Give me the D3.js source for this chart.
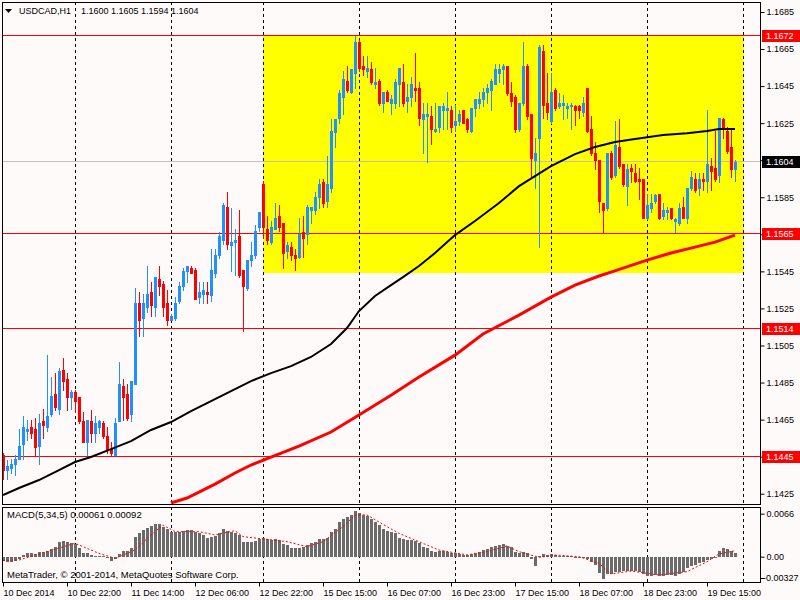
<!DOCTYPE html>
<html><head><meta charset="utf-8">
<script src="https://cdn.jsdelivr.net/npm/d3@7"></script>
<style>
body{margin:0;background:#fffafa;}
svg{display:block}
text{font-family:"Liberation Sans",Arial,sans-serif;font-size:9px;fill:#000}
</style>
</head><body>
<svg id="c" width="800" height="600"></svg>
<script>
// ---------- DATA ----------
const symbol = "USDCAD,H1";
const headerOHLC = ["1.1600","1.1605","1.1594","1.1604"];
const open = [1.1446,1.1438,1.1439,1.1441,1.1444,1.1452,1.1459,1.1461,1.1460,1.1451,
1.1464,1.1461,1.1468,1.1479,1.1471,1.1492,1.1487,1.1477,1.1480,1.1477,
1.1464,1.1453,1.1464,1.1458,1.1461,1.1463,1.1456,1.1449,1.1446,1.1464,
1.1483,1.1479,1.1468,1.1484,1.1528,1.1520,1.1526,1.1534,1.1526,1.1541,
1.1538,1.1528,1.1519,1.1520,1.1529,1.1537,1.1545,1.1547,1.1546,1.1531,
1.1533,1.1534,1.1532,1.1544,1.1554,1.1562,1.1580,1.1559,1.1561,1.1564,
1.1546,1.1536,1.1551,1.1554,1.1569,1.1592,1.1568,1.1561,1.1568,1.1575,
1.1571,1.1556,1.1558,1.1554,1.1553,1.1566,1.1565,1.1578,1.1578,1.1585,
1.1593,1.1583,1.1590,1.1620,1.1628,1.1639,1.1648,1.1642,1.1652,1.1669,
1.1656,1.1653,1.1654,1.1646,1.1648,1.1636,1.1642,1.1636,1.1636,1.1646,
1.1647,1.1637,1.1639,1.1644,1.1644,1.1627,1.1629,1.1629,1.1621,1.1623,
1.1632,1.1632,1.1632,1.1624,1.1626,1.1632,1.1627,1.1621,1.1633,1.1636,
1.1638,1.1642,1.1643,1.1646,1.1652,1.1654,1.1656,1.1641,1.1639,1.1622,
1.1636,1.1656,1.1630,1.1605,1.1617,1.1664,1.1636,1.1626,1.1643,1.1634,
1.1635,1.1633,1.1634,1.1634,1.1634,1.1631,1.1644,1.1622,1.1609,1.1605,
1.1582,1.1579,1.1609,1.1597,1.1612,1.1603,1.1591,1.1601,1.1598,1.1595,
1.1595,1.1574,1.1579,1.1583,1.1587,1.1575,1.1577,1.1579,1.1572,1.1571,
1.1580,1.1574,1.1590,1.1595,1.1590,1.1595,1.1594,1.1602,1.1601,1.1597,
1.1627,1.1621,1.1612,1.1600];
const high = [1.1447,1.1443,1.1444,1.1446,1.1460,1.1467,1.1465,1.1465,1.1466,1.1468,
1.1471,1.1500,1.1488,1.1490,1.1493,1.1498,1.1490,1.1481,1.1481,1.1477,
1.1469,1.1465,1.1470,1.1467,1.1465,1.1464,1.1461,1.1453,1.1466,1.1496,
1.1487,1.1484,1.1486,1.1536,1.1534,1.1533,1.1548,1.1539,1.1542,1.1548,
1.1540,1.1535,1.1522,1.1531,1.1539,1.1547,1.1548,1.1548,1.1547,1.1539,
1.1539,1.1539,1.1557,1.1557,1.1566,1.1582,1.1588,1.1579,1.1568,1.1578,
1.1546,1.1551,1.1561,1.1570,1.1577,1.1594,1.1575,1.1572,1.1582,1.1581,
1.1571,1.1561,1.1561,1.1557,1.1574,1.1575,1.1581,1.1580,1.1588,1.1595,
1.1595,1.1607,1.1627,1.1627,1.1643,1.1653,1.1656,1.1654,1.1672,1.1670,
1.1661,1.1661,1.1658,1.1655,1.1649,1.1642,1.1643,1.1640,1.1649,1.1655,
1.1657,1.1646,1.1650,1.1663,1.1647,1.1636,1.1636,1.1634,1.1636,1.1634,
1.1636,1.1642,1.1634,1.1635,1.1632,1.1632,1.1628,1.1633,1.1638,1.1642,
1.1644,1.1646,1.1649,1.1657,1.1657,1.1657,1.1656,1.1647,1.1640,1.1636,
1.1669,1.1657,1.1630,1.1617,1.1667,1.1667,1.1652,1.1652,1.1644,1.1641,
1.1640,1.1636,1.1636,1.1635,1.1635,1.1639,1.1644,1.1629,1.1615,1.1605,
1.1582,1.1609,1.1610,1.1626,1.1627,1.1603,1.1603,1.1603,1.1603,1.1601,
1.1595,1.1587,1.1587,1.1587,1.1587,1.1582,1.1580,1.1579,1.1574,1.1582,
1.1585,1.1590,1.1599,1.1598,1.1598,1.1598,1.1632,1.1606,1.1621,1.1628,
1.1628,1.1623,1.1622,1.1605];
const low = [1.1433,1.1433,1.1436,1.1435,1.1444,1.1444,1.1454,1.1455,1.1446,1.1441,
1.1455,1.1459,1.1467,1.1470,1.1468,1.1481,1.1470,1.1471,1.1469,1.1463,
1.1453,1.1446,1.1453,1.1453,1.1458,1.1455,1.1447,1.1446,1.1446,1.1464,
1.1465,1.1465,1.1464,1.1484,1.1510,1.1510,1.1523,1.1521,1.1521,1.1532,
1.1521,1.1516,1.1519,1.1519,1.1528,1.1535,1.1539,1.1544,1.1530,1.1528,
1.1528,1.1528,1.1529,1.1542,1.1552,1.1560,1.1557,1.1545,1.1543,1.1542,
1.1513,1.1535,1.1548,1.1552,1.1567,1.1563,1.1560,1.1560,1.1568,1.1567,
1.1547,1.1552,1.1551,1.1546,1.1552,1.1553,1.1560,1.1571,1.1576,1.1579,
1.1580,1.1580,1.1588,1.1612,1.1625,1.1630,1.1642,1.1641,1.1644,1.1653,
1.1651,1.1650,1.1646,1.1644,1.1635,1.1631,1.1637,1.1630,1.1633,1.1634,
1.1634,1.1631,1.1634,1.1637,1.1624,1.1609,1.1604,1.1614,1.1620,1.1620,
1.1622,1.1622,1.1620,1.1621,1.1624,1.1625,1.1620,1.1620,1.1629,1.1633,
1.1634,1.1636,1.1632,1.1646,1.1647,1.1646,1.1640,1.1634,1.1620,1.1621,
1.1635,1.1627,1.1596,1.1590,1.1558,1.1628,1.1627,1.1625,1.1632,1.1633,
1.1627,1.1628,1.1622,1.1624,1.1628,1.1629,1.1620,1.1608,1.1600,1.1577,
1.1566,1.1578,1.1595,1.1596,1.1601,1.1591,1.1581,1.1593,1.1593,1.1584,
1.1574,1.1573,1.1577,1.1582,1.1573,1.1573,1.1573,1.1573,1.1566,1.1570,
1.1574,1.1571,1.1589,1.1588,1.1586,1.1589,1.1588,1.1589,1.1594,1.1593,
1.1617,1.1609,1.1596,1.1594];
const close = [1.1438,1.1440,1.1441,1.1444,1.1451,1.1461,1.1460,1.1458,1.1450,1.1463,
1.1462,1.1467,1.1478,1.1472,1.1491,1.1486,1.1477,1.1480,1.1475,1.1464,
1.1453,1.1465,1.1458,1.1463,1.1464,1.1456,1.1449,1.1447,1.1463,1.1484,
1.1477,1.1466,1.1486,1.1528,1.1519,1.1528,1.1533,1.1527,1.1542,1.1537,
1.1526,1.1519,1.1521,1.1528,1.1537,1.1545,1.1548,1.1544,1.1530,1.1534,
1.1535,1.1533,1.1546,1.1554,1.1564,1.1581,1.1560,1.1561,1.1562,1.1543,
1.1537,1.1551,1.1554,1.1567,1.1577,1.1569,1.1562,1.1569,1.1574,1.1569,
1.1555,1.1559,1.1554,1.1552,1.1565,1.1563,1.1580,1.1580,1.1585,1.1592,
1.1582,1.1592,1.1621,1.1627,1.1641,1.1649,1.1643,1.1654,1.1669,1.1655,
1.1654,1.1655,1.1647,1.1647,1.1636,1.1642,1.1637,1.1638,1.1647,1.1655,
1.1636,1.1639,1.1646,1.1643,1.1628,1.1630,1.1630,1.1622,1.1622,1.1634,
1.1634,1.1633,1.1623,1.1626,1.1630,1.1625,1.1622,1.1633,1.1638,1.1638,
1.1642,1.1644,1.1648,1.1654,1.1654,1.1656,1.1641,1.1637,1.1622,1.1636,
1.1656,1.1629,1.1606,1.1609,1.1666,1.1635,1.1631,1.1642,1.1633,1.1636,
1.1636,1.1634,1.1635,1.1632,1.1632,1.1636,1.1621,1.1609,1.1605,1.1583,
1.1578,1.1609,1.1596,1.1613,1.1602,1.1592,1.1600,1.1599,1.1594,1.1594,
1.1574,1.1581,1.1582,1.1586,1.1574,1.1578,1.1578,1.1574,1.1573,1.1579,
1.1574,1.1590,1.1596,1.1589,1.1595,1.1594,1.1603,1.1599,1.1595,1.1628,
1.1622,1.1610,1.1600,1.1604];

const timeLabels = ["10 Dec 2014","10 Dec 22:00","11 Dec 14:00","12 Dec 06:00","12 Dec 22:00","15 Dec 15:00",
  "16 Dec 07:00","16 Dec 23:00","17 Dec 15:00","18 Dec 07:00","18 Dec 23:00","19 Dec 15:00"];
const timeLabelBars = [0,16,32,48,64,80,96,112,128,144,160,176];
const dayStartBars = [18,42,65,89,113,137,161,185];

const priceTicks = [1.1685,1.1665,1.1645,1.1625,1.1605,1.1585,1.1565,1.1545,1.1525,1.1505,1.1485,1.1465,1.1445,1.1425];
const levelPrices = [1.1672,1.1565,1.1514,1.1445];
const bidPrice = 1.1604;
const boxBars = [65,185.25];
const boxPrices = [1.1672,1.1544];

const maBlackBars = [0,4,9,14,18,22,27,32,37,42,47,52,57,62,67,72,77,82,86,89,93,97,100,104,108,113,118,124,129,133,137,143,148,153,158,165,171,176,179,183];
const maBlackVals = [1.14243,1.14281,1.14324,1.14378,1.14421,1.14448,1.14491,1.14534,1.14594,1.14637,
  1.14696,1.14750,1.14804,1.14858,1.14901,1.14939,1.14988,1.15058,1.15144,1.15236,
  1.15317,1.15376,1.15419,1.15479,1.15549,1.15646,1.15722,1.15819,1.15910,1.15964,
  1.16018,1.16083,1.16121,1.16148,1.16164,1.16186,1.16196,1.16207,1.16218,1.16218];
const maRedBars = [42,46,53,58,62,67,74,82,89,97,104,113,120,129,137,143,149,152,161,167,173,178,183];
const maRedVals = [1.14200,1.14227,1.14302,1.14362,1.14405,1.14448,1.14507,1.14583,1.14675,1.14782,
  1.14880,1.14998,1.15112,1.15214,1.15311,1.15376,1.15425,1.15446,1.15511,1.15549,1.15581,1.15608,1.15646];

const macdMain = [-0.00067,-0.00077,-0.00077,-0.00061,-0.00041,0.00026,0.00051,0.00051,0.00041,0.00067,
0.00077,0.00092,0.00113,0.00154,0.00220,0.00236,0.00220,0.00215,0.00195,0.00138,
0.00061,0.00061,0.00026,0.00015,0.00010,0.00003,-0.00026,-0.00067,-0.00036,0.00036,
0.00087,0.00087,0.00128,0.00297,0.00369,0.00410,0.00445,0.00471,0.00502,0.00502,
0.00461,0.00420,0.00384,0.00374,0.00384,0.00399,0.00410,0.00410,0.00374,0.00358,
0.00333,0.00282,0.00297,0.00317,0.00358,0.00420,0.00399,0.00384,0.00369,0.00333,
0.00230,0.00220,0.00220,0.00246,0.00271,0.00292,0.00271,0.00256,0.00271,0.00256,
0.00195,0.00179,0.00138,0.00128,0.00128,0.00143,0.00179,0.00205,0.00220,0.00266,
0.00266,0.00282,0.00374,0.00425,0.00527,0.00579,0.00604,0.00640,0.00701,0.00676,
0.00640,0.00625,0.00579,0.00527,0.00486,0.00420,0.00399,0.00374,0.00358,0.00290,
0.00271,0.00256,0.00256,0.00241,0.00205,0.00154,0.00128,0.00087,0.00077,0.00087,
0.00087,0.00077,0.00061,0.00051,0.00041,0.00026,0.00026,0.00041,0.00061,0.00077,
0.00102,0.00118,0.00143,0.00164,0.00179,0.00195,0.00169,0.00154,0.00077,0.00051,
0.00077,0.00051,-0.00041,-0.00138,0.00015,0.00036,0.00026,0.00036,0.00026,0.00015,
0.00010,0.00010,0.00003,-0.00010,-0.00010,-0.00010,-0.00041,-0.00077,-0.00128,-0.00246,
-0.00343,-0.00266,-0.00266,-0.00230,-0.00230,-0.00220,-0.00220,-0.00220,-0.00220,-0.00230,
-0.00266,-0.00297,-0.00292,-0.00282,-0.00297,-0.00292,-0.00282,-0.00282,-0.00292,-0.00266,
-0.00230,-0.00179,-0.00138,-0.00128,-0.00102,-0.00077,-0.00051,-0.00036,-0.00010,0.00092,
0.00128,0.00113,0.00087,0.00061];
const signalBars = [0,4,11,18,24,28,33,37,40,43,49,53,58,60,66,71,76,80,85,88,91,96,99,104,109,116,121,126,129,134,138,144,149,152,157,164,171,176,179,183];
const signalVals = [-0.00060,-0.00051,0.00077,0.00205,0.00051,-0.00026,0.00102,0.00333,0.00486,0.00384,
  0.00384,0.00333,0.00399,0.00307,0.00266,0.00230,0.00154,0.00230,0.00461,0.00640,
  0.00640,0.00461,0.00358,0.00230,0.00102,0.00026,0.00077,0.00164,0.00077,-0.00010,
  0.00026,0.00000,-0.00102,-0.00266,-0.00220,-0.00282,-0.00230,-0.00077,0.00041,0.00092];
const macdTicks = [0.0066,0,-0.00327];
const macdTickLabels = ["0.0066","0.00","-0.00327"];
const macdTitle = "MACD(5,34,5) 0.00061 0.00092";
const copyright = "MetaTrader, \u00A9 2001-2014, MetaQuotes Software Corp.";

// ---------- LAYOUT ----------
const svg = d3.select("#c");
const L = 2, R = 760, T = 2, B = 504, MT = 507, MB = 582;
const x = d3.scaleLinear().domain([0,183]).range([3,735]);
const y = d3.scaleLinear().domain([1.1672,1.1425]).range([36.05,36.05+18530*0.0247]);
const ym = d3.scaleLinear().domain([0,0.0066]).range([556.67,513.67]);

svg.append("rect").attr("width",800).attr("height",600).attr("fill","#fffafa");
svg.append("defs").append("clipPath").attr("id","mainClip")
  .append("rect").attr("x",L+1).attr("y",T+1).attr("width",R-L-1).attr("height",B-T-1);

// yellow rectangle
const bx0 = Math.round(x(boxBars[0])), bx1 = Math.round(x(boxBars[1]));
const by0 = Math.round(y(boxPrices[0])), by1 = Math.round(y(boxPrices[1]));
svg.append("rect").attr("x",bx0).attr("y",by0-1).attr("width",bx1-bx0).attr("height",by1-by0+1).attr("fill","#ffff00");

// grid
const g = svg.append("g");
dayStartBars.forEach(b=>{
  const gx = Math.round(x(b))+0.5;
  g.append("line").attr("x1",gx).attr("x2",gx).attr("y1",T).attr("y2",B)
    .attr("stroke","#000").attr("stroke-dasharray","3,3");
  g.append("line").attr("x1",gx).attr("x2",gx).attr("y1",MT).attr("y2",MB)
    .attr("stroke","#000").attr("stroke-dasharray","3,3");
  if (gx>=bx0 && gx<=bx1) {
    g.append("line").attr("x1",gx).attr("x2",gx)
      .attr("y1",by0-1).attr("y2",by1)
      .attr("stroke","#0000a0").attr("stroke-dasharray","3,3")
      .attr("stroke-dashoffset",(by0-1-T));
  }
});

// horizontal levels
const lv = svg.append("g");
const rowY = p => Math.floor(y(p)-0.5)+0.5;
lv.append("line").attr("x1",L).attr("x2",R).attr("y1",rowY(bidPrice)).attr("y2",rowY(bidPrice)).attr("stroke","#c0c0c0");
levelPrices.forEach(p=>{
  lv.append("line").attr("x1",L).attr("x2",R).attr("y1",rowY(p)).attr("y2",rowY(p)).attr("stroke","#ff0000");
});

// candles
const cg = svg.append("g").attr("clip-path","url(#mainClip)");
open.forEach((o,i)=>{
  const c = close[i], h = high[i], l = low[i];
  const col = c >= o ? "#1e90ff" : "#ff0000";
  const cx = Math.round(x(i));
  const yh = Math.round(y(h)), yl = Math.round(y(l));
  cg.append("rect").attr("x",cx).attr("y",yh).attr("width",1).attr("height",Math.max(1,yl-yh+1)).attr("fill",col);
  const yt = Math.round(y(Math.max(o,c))), yb = Math.round(y(Math.min(o,c)));
  cg.append("rect").attr("x",cx-1).attr("y",yt).attr("width",3).attr("height",Math.max(1,yb-yt+1)).attr("fill",col);
});

// moving averages
const line = d3.line().x(d=>x(d[0])).y(d=>y(d[1]));
cg.append("path").attr("d",line(maRedBars.map((b,i)=>[b,maRedVals[i]])))
  .attr("fill","none").attr("stroke","#ff0000").attr("stroke-width",3);
cg.append("path").attr("d",line(maBlackBars.map((b,i)=>[b,maBlackVals[i]])))
  .attr("fill","none").attr("stroke","#000").attr("stroke-width",2);

// MACD
const mg = svg.append("g");
const z = Math.round(ym(0));
macdMain.forEach((v,i)=>{
  const cx = Math.round(x(i));
  const yv = Math.round(ym(v));
  const top = Math.min(z,yv), h = Math.max(1,Math.abs(z-yv));
  mg.append("rect").attr("x",cx-1).attr("y",top).attr("width",3).attr("height",h).attr("fill","#6b6b6b");
});
mg.append("path").attr("d",d3.line().x(d=>x(d[0])).y(d=>ym(d[1]))(signalBars.map((b,i)=>[b,signalVals[i]])))
  .attr("fill","none").attr("stroke","#ff0000").attr("stroke-width",1).attr("stroke-dasharray","2,2");

// frames
svg.append("rect").attr("x",L+0.5).attr("y",T+0.5).attr("width",R-L).attr("height",B-T).attr("fill","none").attr("stroke","#000");
svg.append("rect").attr("x",L+0.5).attr("y",MT+0.5).attr("width",R-L).attr("height",MB-MT).attr("fill","none").attr("stroke","#000");

// price axis
const pa = svg.append("g").attr("transform",`translate(${R+0.5},0)`)
  .call(d3.axisRight(y).tickValues(priceTicks).tickFormat(d3.format(".4f")).tickSize(4).tickPadding(2));
pa.select(".domain").remove();
pa.selectAll("text").style("font-family","Liberation Sans, Arial, sans-serif").style("font-size","9px").attr("fill","#000");
pa.selectAll("line").attr("stroke","#000");

// level price labels
const lab = svg.append("g");
function priceBox(p, bg){
  const yy = Math.round(y(p));
  lab.append("rect").attr("x",R+2).attr("y",yy-6).attr("width",38).attr("height",12).attr("fill",bg);
  lab.append("text").attr("x",R+6).attr("y",yy).attr("dy","0.34em").style("fill","#fff").text(d3.format(".4f")(p));
}
levelPrices.forEach(p=>priceBox(p,"#ff0000"));
priceBox(bidPrice,"#000");

// macd axis
const ma = svg.append("g").attr("transform",`translate(${R+0.5},0)`)
  .call(d3.axisRight(ym).tickValues(macdTicks).tickFormat((d,i)=>macdTickLabels[i]).tickSize(4).tickPadding(2));
ma.select(".domain").remove();
ma.selectAll("text").style("font-family","Liberation Sans, Arial, sans-serif").style("font-size","9px").attr("fill","#000")
  .attr("x",(d)=> d<0 ? 2.5 : 6);
ma.selectAll("line").attr("stroke","#000");

// time axis
const ta = svg.append("g").attr("transform",`translate(0,${MB+0.5})`)
  .call(d3.axisBottom(x).tickValues(timeLabelBars).tickFormat((d,i)=>timeLabels[i]).tickSize(4).tickPadding(3));
ta.select(".domain").remove();
ta.selectAll("text").attr("text-anchor","start").attr("x",0)
  .style("font-family","Liberation Sans, Arial, sans-serif").style("font-size","9px").attr("fill","#000");
ta.selectAll("line").attr("stroke","#000");

// header
svg.append("path").attr("d","M5,9 L12,9 L8.5,13 Z").attr("fill","#000");
svg.append("text").attr("x",19).attr("y",14).text(symbol);
svg.append("text").attr("x",81).attr("y",14).text(headerOHLC.join(" "));

// MACD texts
svg.append("text").attr("x",7).attr("y",518).style("font-size","9.5px").text(macdTitle);
svg.append("text").attr("x",7).attr("y",578).style("font-size","9.5px").text(copyright);
</script>
</body></html>
